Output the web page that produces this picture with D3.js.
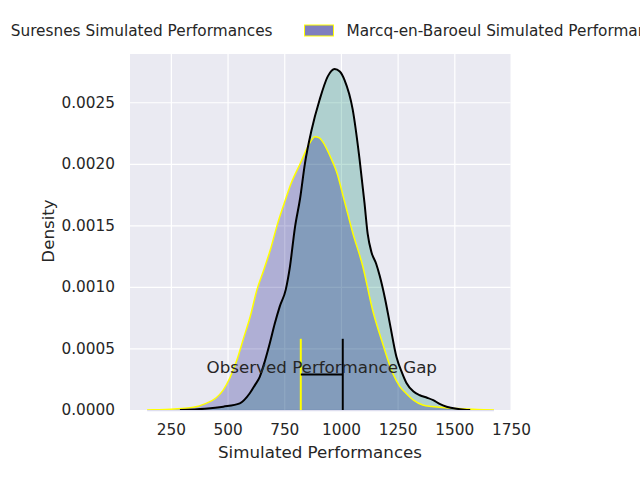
<!DOCTYPE html>
<html>
<head>
<meta charset="utf-8">
<script src="https://cdn.jsdelivr.net/npm/d3@7"></script>
<style>
  html, body { margin: 0; padding: 0; background: #fff; }
  svg { display: block; font-family: "DejaVu Sans", sans-serif; }
</style>
</head>
<body>
<svg id="chart" width="640" height="480"></svg>
<script>
// density curves
const suresnesX = [290, 400, 481, 554, 598, 620, 642, 665, 686, 708, 730, 757, 774, 797, 820, 841, 870, 906, 942, 972, 995, 1016, 1052, 1082, 1104, 1118, 1135, 1155, 1171, 1195, 1216, 1245, 1270, 1289, 1320, 1348, 1380, 1407, 1435, 1466, 1510, 1545, 1570];
const suresnesDensity = [0, 0.00001, 0.000027, 0.000054, 0.000136, 0.0002, 0.00027, 0.0004, 0.00054, 0.0007, 0.00084, 0.00098, 0.00115, 0.00148, 0.00172, 0.0020, 0.00227, 0.00252, 0.00271, 0.00277, 0.00275, 0.00268, 0.00244, 0.00204, 0.00168, 0.00143, 0.00128, 0.00119, 0.00109, 0.0009, 0.0007, 0.00043, 0.0003, 0.00022, 0.00015, 0.00012, 0.0001, 0.00008, 0.00005, 0.000027, 0.00001, 0.000003, 0];

const marcqX = [145, 200, 250, 300, 350, 400, 450, 480, 510, 540, 570, 600, 630, 660, 690, 720, 750, 780, 820, 860, 885, 905, 935, 960, 980, 1015, 1052, 1096, 1140, 1184, 1228, 1260, 1287, 1320, 1361, 1400, 1434, 1480, 1535, 1600, 1675];
const marcqDensity = [0, 0.000003, 0.000007, 0.000013, 0.000022, 0.00005, 0.0001, 0.00016, 0.00026, 0.0004, 0.00058, 0.00076, 0.00098, 0.00114, 0.00131, 0.00151, 0.00168, 0.00184, 0.0020, 0.00216, 0.00222, 0.00221, 0.00213, 0.00203, 0.00194, 0.0017, 0.00144, 0.00117, 0.00081, 0.00054, 0.0003, 0.00019, 0.000136, 0.00008, 0.00004, 0.000028, 0.000022, 0.000015, 0.00001, 0.000004, 0];

const xTicks = [250, 500, 750, 1000, 1250, 1500, 1750];
const yTicks = [0, 0.0005, 0.0010, 0.0015, 0.0020, 0.0025];

const legendLabels = ['Suresnes Simulated Performances', 'Marcq-en-Baroeul Simulated Performances'];

// observed performances (gap markers)
const observedMarcq = 823;
const observedSuresnes = 1008;
const gapLabel = 'Observed Performance Gap';
const gapLabelY = 0.0003;

const textColor = '#262626';
const suresnesFill = 'rgb(0,130,102)';
const marcqFill = 'navy';

const svg = d3.select('#chart');

const x = d3.scaleLinear().domain([72, 1750]).range([130.5, 511]);
const y = d3.scaleLinear().domain([0, 0.002892]).range([410, 54]);

// axes fraction -> pixel
const yFrac = (f) => y.range()[0] + f * (y.range()[1] - y.range()[0]);

svg.append('defs')
  .append('clipPath')
    .attr('id', 'plotClip')
  .append('rect')
    .attr('x', 130)
    .attr('y', 54)
    .attr('width', 380.5)
    .attr('height', 356);

svg.append('rect')
    .attr('x', 130)
    .attr('y', 54)
    .attr('width', 380.5)
    .attr('height', 356)
    .attr('fill', '#eaeaf2');

// grid + tick labels
const xAxis = svg.append('g')
    .attr('transform', 'translate(0,410)')
    .call(d3.axisBottom(x).tickValues(xTicks).tickSize(-356).tickPadding(0).tickFormat(d3.format('d')));

const yAxis = svg.append('g')
    .attr('transform', 'translate(130,0)')
    .call(d3.axisLeft(y).tickValues(yTicks).tickSize(-380.5).tickPadding(15).tickFormat(d3.format('.4f')));

[xAxis, yAxis].forEach((axis) => {
  axis.select('.domain').remove();
  axis.selectAll('line')
      .attr('stroke', '#fff')
      .attr('stroke-width', 1.2);
  axis.selectAll('text')
      .attr('fill', textColor)
      .style('font-size', '15.3px')
      .style('font-family', '"DejaVu Sans", sans-serif');
});

xAxis.selectAll('.tick')
    .filter((d) => x(d) > 510)
    .select('line')
    .remove();

xAxis.selectAll('text')
    .attr('y', 25)
    .attr('dy', null);

// faint baseline edge of the fills
svg.append('line')
    .attr('x1', x(145))
    .attr('x2', x(1675))
    .attr('y1', 410.5)
    .attr('y2', 410.5)
    .attr('stroke', 'rgba(0,0,128,0.13)')
    .attr('stroke-width', 1.5);

const plot = svg.append('g').attr('clip-path', 'url(#plotClip)');

const area = d3.area()
    .x((d) => x(d[0]))
    .y0(y(0))
    .y1((d) => y(d[1]))
    .curve(d3.curveMonotoneX);

const line = d3.line()
    .x((d) => x(d[0]))
    .y((d) => y(d[1]))
    .curve(d3.curveMonotoneX);

const suresnes = d3.zip(suresnesX, suresnesDensity);
const marcq = d3.zip(marcqX, marcqDensity);

plot.append('path')
    .datum(suresnes)
    .attr('d', area)
    .attr('fill', suresnesFill)
    .attr('fill-opacity', 0.25);

plot.append('path')
    .datum(marcq)
    .attr('d', area)
    .attr('fill', marcqFill)
    .attr('fill-opacity', 0.25);

plot.append('path')
    .datum(marcq)
    .attr('d', line)
    .attr('fill', 'none')
    .attr('stroke', 'yellow')
    .attr('stroke-width', 1.5);

plot.append('path')
    .datum(suresnes)
    .attr('d', line)
    .attr('fill', 'none')
    .attr('stroke', 'black')
    .attr('stroke-width', 2);

// observed gap
plot.append('line')
    .attr('x1', x(observedMarcq))
    .attr('x2', x(observedMarcq))
    .attr('y1', yFrac(0))
    .attr('y2', yFrac(0.2))
    .attr('stroke', 'yellow')
    .attr('stroke-width', 2);

plot.append('line')
    .attr('x1', x(observedSuresnes))
    .attr('x2', x(observedSuresnes))
    .attr('y1', yFrac(0))
    .attr('y2', yFrac(0.2))
    .attr('stroke', 'black')
    .attr('stroke-width', 2);

plot.append('line')
    .attr('x1', x(observedMarcq))
    .attr('x2', x(observedSuresnes))
    .attr('y1', yFrac(0.1))
    .attr('y2', yFrac(0.1))
    .attr('stroke', 'black')
    .attr('stroke-width', 2);

svg.append('text')
    .text(gapLabel)
    .attr('x', x((observedMarcq + observedSuresnes) / 2))
    .attr('y', y(gapLabelY))
    .attr('text-anchor', 'middle')
    .attr('fill', textColor)
    .style('font-size', '16.7px');

// axis labels
svg.append('text')
    .text('Simulated Performances')
    .attr('x', 320)
    .attr('y', 458)
    .attr('text-anchor', 'middle')
    .attr('fill', textColor)
    .style('font-size', '16.7px');

svg.append('text')
    .text('Density')
    .attr('transform', 'translate(54,231) rotate(-90)')
    .attr('text-anchor', 'middle')
    .attr('fill', textColor)
    .style('font-size', '16.7px');

// legend, centred on the figure and wider than it
const legendFills = [suresnesFill, marcqFill];
const legendEdges = ['black', 'yellow'];
const handleW = 29, handleGap = 13, colGap = 32, legendCenter = 321;

const legend = svg.append('g');
const entries = legend.selectAll('g')
    .data(legendLabels)
    .enter()
    .append('g');

entries.append('rect')
    .attr('width', handleW)
    .attr('height', 11)
    .attr('y', 25)
    .attr('fill', (d, i) => legendFills[i])
    .attr('fill-opacity', 0.5)
    .attr('stroke', (d, i) => legendEdges[i])
    .attr('stroke-width', 1);

const labels = entries.append('text')
    .text((d) => d)
    .attr('x', handleW + handleGap)
    .attr('y', 36)
    .attr('fill', textColor)
    .style('font-size', '15.3px');

const widths = labels.nodes().map((n) => n.getComputedTextLength() + handleW + handleGap);
const total = d3.sum(widths) + colGap * (widths.length - 1);
let cursor = legendCenter - total / 2;
entries.attr('transform', (d, i) => {
  const tx = cursor;
  cursor += widths[i] + colGap;
  return 'translate(' + tx + ',0)';
});
</script>
</body>
</html>
